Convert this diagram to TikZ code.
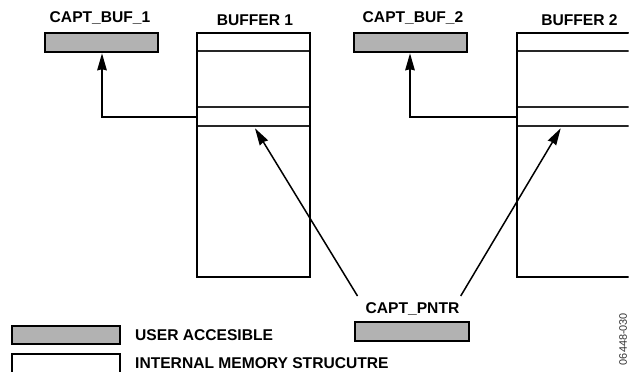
\documentclass[tikz,border=0pt]{standalone}
\usepackage{fontspec}
\setmainfont{Liberation Sans}
\usetikzlibrary{arrows.meta}
\definecolor{usergray}{HTML}{B2B2B2}
\tikzset{
  x=1pt,y=-1pt,
  reg/.style={draw=black,line width=1.8pt,rectangle,inner sep=0pt,outer sep=0pt,anchor=north west,minimum width=#1},
  reg/.default=113.3pt,
  useronly/.style={reg=#1,fill=usergray,minimum height=19pt},
  useronly/.default=113.3pt,
  slice/.style={draw=black!85,line width=1.5pt,rectangle,inner sep=0pt,outer sep=0pt,anchor=north west},
  lbl/.style={font=\bfseries\fontsize{15.6}{18}\selectfont,inner sep=0pt,anchor=base},
  lgd/.style={lbl,anchor=base west},
  link/.style={draw=black,line width=1.8pt,-{Stealth[length=17pt,width=9.5pt,inset=1pt]}},
  diag/.style={link,line width=1.5pt}
}
\begin{document}
\begin{tikzpicture}
\useasboundingbox (0,0) rectangle (629,372);
\clip (0,0) rectangle (628.5,372);
% labels
\node[lbl] (l1) at (100,23) {CAPT\_BUF\_1};
\node[lbl] (b1) at (255,25) {BUFFER 1};
\node[lbl] (l2) at (413,23) {CAPT\_BUF\_2};
\node[lbl] (b2) at (579.5,25) {BUFFER 2};
\node[lbl] (lp) at (412.5,313) {CAPT\_PNTR};
\node[lgd] (lu) at (135,340) {USER ACCESIBLE};
\node[lgd] (li) at (135,368) {INTERNAL MEMORY STRUCUTRE};
\node[rotate=90,inner sep=0pt,font=\fontsize{10.9}{12}\selectfont,text=black!80] (code) at (623,339) {06448-030};
% user registers
\node[useronly] (capt1) at (45,32.7) {};
\node[useronly=112.7pt] (capt2) at (354,32.7) {};
\node[useronly=114pt,minimum height=19.3pt] (ptr) at (355,321.7) {};
\node[useronly=107.4pt,minimum height=18.6pt] (kuser) at (12.3,325.7) {};
\node[reg=107.4pt,minimum height=30pt] (kint) at (12.3,353.7) {};
% buffers
\node[slice,minimum width=112.7pt,minimum height=18.3pt] (top1) at (197.3,32.7) {};
\node[slice,minimum width=112.7pt,minimum height=18.8pt] (slot1) at (197.3,107.2) {};
\node[reg=112.7pt,minimum height=244pt] (buf1) at (197.3,32.7) {};
\node[slice,minimum width=125pt,minimum height=18.3pt] (top2) at (517.3,32.7) {};
\node[slice,minimum width=125pt,minimum height=18.8pt] (slot2) at (517.3,107.2) {};
\node[reg=125pt,minimum height=244pt] (buf2) at (517.3,32.7) {};
% connectors
\coordinate (in1) at (102,53.3);
\coordinate (in2) at (410,53.3);
\coordinate (s1) at (357.5,296);
\coordinate (s2) at (460.7,296);
\coordinate (e1) at (255,128.3);
\coordinate (e2) at (560.7,128.3);
\draw[link] (slot1.west) -| (in1);
\draw[link] (slot2.west) -| (in2);
\draw[diag] (s1) -- (e1);
\draw[diag] (s2) -- (e2);
\end{tikzpicture}
\end{document}
